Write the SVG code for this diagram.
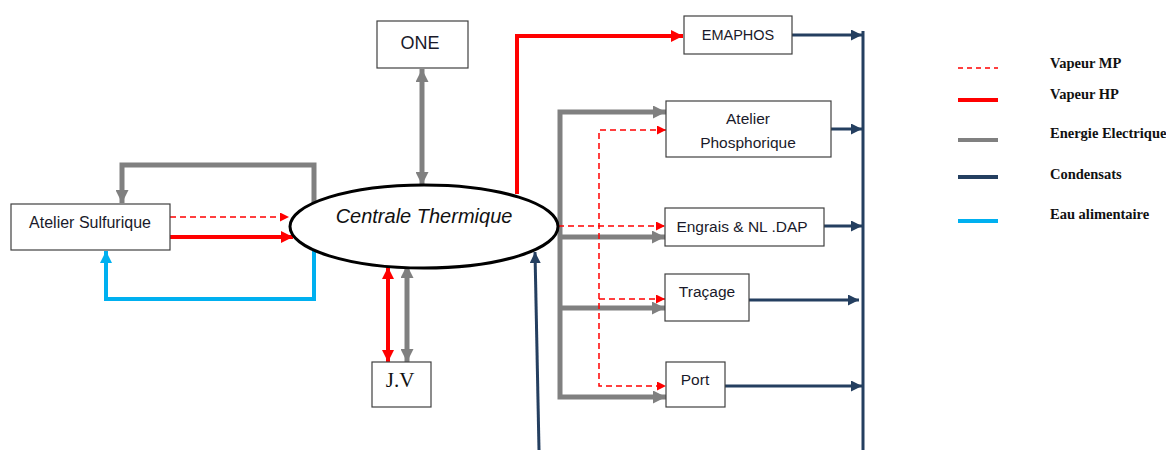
<svg xmlns="http://www.w3.org/2000/svg" width="1166" height="450" viewBox="0 0 1166 450">
<style>
.box{fill:#fff;stroke:#404040;stroke-width:1.2}
.t{font-family:"Liberation Sans",Arial,sans-serif;font-size:15.5px;fill:#1a1a2a}
.lg{font-family:"Liberation Serif","Times New Roman",serif;font-size:14.5px;font-weight:bold;fill:#111}
.gray{fill:none;stroke:#808080;stroke-width:5}
.red{fill:none;stroke:#ff0000;stroke-width:4}
.redd{fill:none;stroke:#ff0000;stroke-width:1.5;stroke-dasharray:6 4}
.navy{fill:none;stroke:#243f60;stroke-width:3}
.blue{fill:none;stroke:#00b0f0;stroke-width:4}
</style>
<defs>
<marker id="ag" viewBox="0 0 10 10" refX="10" refY="5" markerUnits="userSpaceOnUse" markerWidth="13" markerHeight="13" orient="auto-start-reverse"><path d="M0,0 L10,5 L0,10 z" fill="#808080"/></marker>
<marker id="ar" viewBox="0 0 10 10" refX="10" refY="5" markerUnits="userSpaceOnUse" markerWidth="12" markerHeight="12" orient="auto-start-reverse"><path d="M0,0 L10,5 L0,10 z" fill="#ff0000"/></marker>
<marker id="ard" viewBox="0 0 10 10" refX="10" refY="5" markerUnits="userSpaceOnUse" markerWidth="9" markerHeight="9" orient="auto-start-reverse"><path d="M0,0 L10,5 L0,10 z" fill="#ff0000"/></marker>
<marker id="an" viewBox="0 0 10 10" refX="10" refY="5" markerUnits="userSpaceOnUse" markerWidth="11" markerHeight="11" orient="auto-start-reverse"><path d="M0,0 L10,5 L0,10 z" fill="#243f60"/></marker>
<marker id="ab" viewBox="0 0 10 10" refX="10" refY="5" markerUnits="userSpaceOnUse" markerWidth="12" markerHeight="12" orient="auto-start-reverse"><path d="M0,0 L10,5 L0,10 z" fill="#00b0f0"/></marker>
</defs>

<g id="connectors">
  <polyline class="gray" points="314,203 314,165 122,165 122,203" marker-end="url(#ag)"/>
  <line class="redd" x1="170" y1="217" x2="289" y2="217" marker-end="url(#ard)"/>
  <line class="red" x1="170" y1="237" x2="293" y2="237" marker-end="url(#ar)"/>
  <polyline class="blue" points="314,251 314,299 106,299 106,251" marker-end="url(#ab)"/>
  <line class="gray" x1="422" y1="69" x2="422" y2="185" marker-start="url(#ag)" marker-end="url(#ag)"/>
  <line class="red" x1="388" y1="267" x2="388" y2="362" marker-start="url(#ar)" marker-end="url(#ar)"/>
  <line class="gray" x1="407" y1="265" x2="407" y2="362" marker-start="url(#ag)" marker-end="url(#ag)"/>
  <polyline class="red" points="517,194 517,36 683,36" marker-end="url(#ar)"/>
  <polyline class="gray" points="666,112 560,112 560,397 666,397" marker-start="url(#ag)" marker-end="url(#ag)"/>
  <line class="gray" x1="560" y1="237" x2="665" y2="237" marker-end="url(#ag)"/>
  <line class="gray" x1="560" y1="308" x2="665" y2="308" marker-end="url(#ag)"/>
  <polyline class="redd" points="666,130 599,130 599,386 666,386" marker-start="url(#ard)" marker-end="url(#ard)"/>
  <line class="redd" x1="558" y1="226" x2="665" y2="226" marker-end="url(#ard)"/>
  <line class="redd" x1="599" y1="299" x2="665" y2="299" marker-end="url(#ard)"/>
  <line class="navy" x1="863" y1="31" x2="863" y2="450"/>
  <line class="navy" x1="792" y1="35" x2="862" y2="35" marker-end="url(#an)"/>
  <line class="navy" x1="831" y1="129" x2="862" y2="129" marker-end="url(#an)"/>
  <line class="navy" x1="824" y1="226" x2="862" y2="226" marker-end="url(#an)"/>
  <line class="navy" x1="749" y1="300" x2="859" y2="300" marker-end="url(#an)"/>
  <line class="navy" x1="725" y1="386" x2="862" y2="386" marker-end="url(#an)"/>
  <line class="navy" x1="539" y1="450" x2="535" y2="252" marker-end="url(#an)"/>
</g>

<g id="centrale">
  <ellipse cx="424" cy="226.5" rx="134" ry="41.5" fill="#fff" stroke="#000" stroke-width="3"/>
  <text x="424" y="223" text-anchor="middle" font-family="Liberation Sans,Arial,sans-serif" font-size="20" font-style="italic" fill="#111">Centrale Thermique</text>
</g>
<g id="sulfurique">
  <rect class="box" x="11" y="204" width="159" height="46"/>
  <text class="t" x="90" y="228" text-anchor="middle" style="font-size:16px">Atelier Sulfurique</text>
</g>
<g id="one">
  <rect class="box" x="377" y="21" width="91" height="47"/>
  <text class="t" x="420" y="49" text-anchor="middle" style="font-size:18px">ONE</text>
</g>
<g id="jv">
  <rect class="box" x="372" y="362" width="59" height="45"/>
  <text x="400" y="387" text-anchor="middle" font-family="Liberation Serif,Times New Roman,serif" font-size="21" fill="#111">J.V</text>
</g>
<g id="emaphos">
  <rect class="box" x="684" y="16" width="108" height="38"/>
  <text class="t" x="738" y="40" text-anchor="middle" style="font-size:14.5px">EMAPHOS</text>
</g>
<g id="phosphorique">
  <rect class="box" x="666" y="101" width="165" height="56"/>
  <text class="t" x="748" y="124" text-anchor="middle">Atelier</text>
  <text class="t" x="748" y="148" text-anchor="middle">Phosphorique</text>
</g>
<g id="engrais">
  <rect class="box" x="665" y="208" width="159" height="38"/>
  <text class="t" x="742" y="232" text-anchor="middle">Engrais &amp; NL .DAP</text>
</g>
<g id="tracage">
  <rect class="box" x="665" y="274" width="84" height="47"/>
  <text class="t" x="707" y="297" text-anchor="middle">Traçage</text>
</g>
<g id="port">
  <rect class="box" x="666" y="362" width="59" height="45"/>
  <text class="t" x="695" y="385" text-anchor="middle">Port</text>
</g>

<g id="legend">
  <line class="redd" x1="958" y1="68" x2="998" y2="68" style="stroke-dasharray:5 4"/>
  <text class="lg" x="1050" y="68">Vapeur MP</text>
  <line class="red" x1="958" y1="100" x2="998" y2="100"/>
  <text class="lg" x="1050" y="99">Vapeur HP</text>
  <line class="gray" x1="958" y1="140" x2="998" y2="140" style="stroke-width:4"/>
  <text class="lg" x="1050" y="138">Energie Electrique</text>
  <line class="navy" x1="958" y1="177" x2="998" y2="177" style="stroke-width:4"/>
  <text class="lg" x="1050" y="179">Condensats</text>
  <line class="blue" x1="958" y1="221" x2="998" y2="221"/>
  <text class="lg" x="1050" y="219">Eau alimentaire</text>
</g>
</svg>
